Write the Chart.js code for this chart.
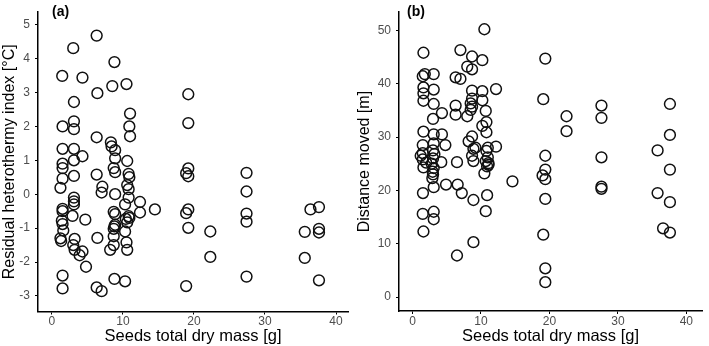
<!DOCTYPE html>
<html>
<head>
<meta charset="utf-8">
<script src="https://cdn.jsdelivr.net/npm/chart.js@4.4.0/dist/chart.umd.min.js"></script>
<style>
body { margin: 0; background: #fff; }
#wrap { position: relative; width: 709px; height: 346px; }
canvas { position: absolute; top: 0; }
</style>
</head>
<body>
<div id="wrap">
  <canvas id="chartA" width="355" height="346" style="left:0"></canvas>
  <canvas id="chartB" width="354" height="346" style="left:355px"></canvas>
</div>
<script>
// Datos
const xTicks = [0, 10, 20, 30, 40];
const aTicks = [-3, -2, -1, 0, 1, 2, 3, 4, 5];
const bTicks = [0, 10, 20, 30, 40, 50];

// Panel (a): masa de semillas vs índice de heterotermia
const aSeedMass = [
  6.3, 3.0, 8.8, 1.45, 4.3, 6.4, 8.5, 10.5, 3.1, 11.0, 10.9, 11.0, 1.5, 3.1, 3.1, 6.3,
  8.3, 8.4, 8.9, 1.5, 3.1, 4.3, 3.1, 1.5, 1.5, 8.9, 10.6, 8.7, 8.9, 10.8, 10.9, 3.1,
  6.3, 1.5, 1.2, 7.1, 7.0, 8.9, 10.6, 10.8, 3.1, 3.1, 3.1, 10.8, 10.3, 12.4, 12.4, 14.5,
  1.5, 1.5, 2.9, 4.7, 1.4, 1.5, 1.6, 1.2, 1.3, 8.7, 8.9, 8.9, 8.7, 8.7, 8.7, 8.2,
  10.4, 10.6, 10.3, 10.5, 10.6, 6.4, 3.2, 3.0, 3.2, 4.3, 3.9, 4.8, 1.5, 1.5, 6.3, 7.0,
  8.8, 10.3, 10.8, 10.9, 8.8,
  19.2, 19.2, 19.2, 18.9, 19.2, 19.2, 18.9, 19.2, 22.3, 22.3, 18.9,
  27.4, 27.4, 27.4, 27.4, 27.4, 36.4, 37.6, 35.6, 37.6, 37.6, 35.6, 37.6
];
const aHeterothermy = [
  4.68, 4.31, 3.9, 3.49, 3.44, 2.98, 3.19, 3.25, 2.72, 2.38, 2.0, 1.71, 2.0, 2.15, 1.92, 1.68,
  1.53, 1.41, 1.30, 1.34, 1.34, 1.12, 1.0, 0.9, 0.77, 1.06, 0.98, 0.77, 0.65, 0.6, 0.5, 0.54,
  0.58, 0.46, 0.19, 0.22, 0.05, 0.0, 0.27, 0.15, -0.1, -0.21, -0.3, -0.1, -0.3, -0.23, -0.54, -0.45,
  -0.43, -0.5, -0.64, -0.75, -0.78, -0.88, -1.07, -1.3, -1.38, -0.52, -0.59, -0.9, -1.02, -1.24, -1.5, -1.64,
  -0.73, -0.83, -1.1, -1.42, -1.64, -1.29, -1.32, -1.5, -1.64, -1.69, -1.8, -2.14, -2.4, -2.78, -2.75, -2.86,
  -2.5, -2.57, -0.65, -0.7, -0.95,
  2.95, 2.1, 0.76, 0.62, 0.53, -0.45, -0.56, -0.99, -1.1, -1.85, -2.71,
  0.63, 0.08, -0.57, -0.81, -2.43, -0.45, -0.38, -1.11, -1.02, -1.13, -1.88, -2.54
];

// Panel (b): masa de semillas vs distancia recorrida
const bSeedMass = [
  10.5, 1.6, 7.0, 8.7, 10.2, 8.0, 8.7, 3.1, 1.5, 1.8, 6.3, 7.0, 1.6, 3.1, 1.6, 8.7,
  10.2, 12.2, 1.6, 3.1, 8.7, 8.5, 8.7, 8.5, 10.2, 6.3, 4.3, 6.3, 8.0, 10.7, 3.0, 10.8,
  10.2, 10.8, 1.6, 3.1, 4.3, 4.8, 8.7, 8.2, 12.2, 1.5, 3.1,
  1.5, 1.2, 1.5, 2.0, 1.6, 3.0, 3.2, 3.0, 2.8, 3.1, 3.0, 4.2, 8.9, 8.7, 8.9, 9.2,
  11.0, 10.8, 11.0, 10.7, 11.1, 10.9, 6.5, 11.1, 10.5, 2.95, 2.9,
  1.53, 3.1, 4.9, 6.6, 7.2, 8.9, 10.9, 10.7, 1.5, 3.1, 3.1, 1.6, 8.9, 6.5, 14.6,
  19.4, 19.1, 22.5, 22.5, 19.4, 19.4, 19.0, 19.4, 19.4, 19.1, 19.4, 19.4,
  27.6, 27.6, 27.6, 27.6, 27.6, 37.6, 37.6, 35.8, 37.6, 35.8, 37.6, 36.6, 37.6
];
const bDistance = [
  50.2, 45.8, 46.3, 45.1, 44.4, 43.2, 42.7, 41.8, 41.4, 41.8, 41.2, 40.9, 39.3, 38.9, 38.2, 38.7,
  38.6, 39.0, 36.8, 36.2, 37.2, 36.3, 35.7, 35.1, 36.9, 35.9, 34.5, 34.2, 33.9, 34.9, 33.4, 32.8,
  32.1, 30.9, 31.0, 30.5, 30.5, 28.5, 30.1, 29.2, 28.2, 28.5, 28.8,
  27.0, 26.5, 25.8, 25.2, 24.3, 27.5, 26.8, 26.0, 25.0, 24.2, 23.0, 25.3, 27.8, 26.5, 25.5, 28.0,
  28.0, 27.4, 26.2, 25.5, 24.8, 24.5, 25.3, 25.1, 23.2, 23.5, 22.3,
  19.5, 20.6, 21.1, 21.1, 19.5, 18.2, 19.1, 16.1, 15.6, 16.0, 14.6, 12.3, 10.3, 7.8, 21.7,
  44.7, 37.1, 33.9, 31.1, 26.5, 23.9, 22.8, 22.1, 18.4, 11.7, 5.4, 2.8,
  35.9, 33.6, 26.2, 20.7, 20.3, 36.2, 30.4, 27.5, 23.9, 19.5, 17.8, 12.9, 12.1
];

const FONT = '"Liberation Sans", Arial, sans-serif';

// Etiqueta del panel: (a), (b)
const panelLabel = {
    id: 'panelLabel',
    afterDraw(chart, args, opts) {
        const c = chart.ctx;
        c.save();
        c.font = 'bold 14px ' + FONT;
        c.fillStyle = '#000';
        c.textBaseline = 'top';
        c.fillText(opts.text, opts.x, 5);
        c.restore();
    }
};

function createPanel(canvasId, xs, ys, cfg) {
    const ctx = document.getElementById(canvasId).getContext('2d');
    const points = xs.map((x, i) => ({ x: x, y: ys[i] }));
    return new Chart(ctx, {
        type: 'scatter',
        data: {
            datasets: [{
                data: points,
                pointRadius: 5.4,
                pointHoverRadius: 5.4,
                borderColor: '#111',
                backgroundColor: 'rgba(0,0,0,0)',
                borderWidth: 1.5
            }]
        },
        options: {
            responsive: false,
            animation: false,
            layout: { padding: { top: 3, right: cfg.padRight, left: 0, bottom: 0 } },
            plugins: {
                legend: { display: false },
                tooltip: { enabled: false },
                panelLabel: { text: cfg.label, x: 52 }
            },
            scales: {
                x: {
                    type: 'linear',
                    min: cfg.xMin,
                    max: cfg.xMax,
                    afterBuildTicks: axis => { axis.ticks = xTicks.map(v => ({ value: v })); },
                    afterFit: axis => { axis.height = cfg.xAxisHeight; },
                    grid: { display: true, drawOnChartArea: false, drawTicks: true, tickLength: 3, color: '#000', lineWidth: 1 },
                    border: { display: true, color: '#000', width: 1.5 },
                    ticks: { color: '#4d4d4d', font: { family: FONT, size: 12 }, padding: 0, maxRotation: 0, autoSkip: false },
                    title: { display: true, text: 'Seeds total dry mass [g]', color: '#000', font: { family: FONT, size: 16.5 }, padding: 0 }
                },
                y: {
                    type: 'linear',
                    min: cfg.yMin,
                    max: cfg.yMax,
                    afterBuildTicks: axis => { axis.ticks = cfg.yTicks.map(v => ({ value: v })); },
                    afterFit: axis => { axis.width = cfg.yAxisWidth; },
                    grid: { display: true, drawOnChartArea: false, drawTicks: true, tickLength: 3, color: '#000', lineWidth: 1 },
                    border: { display: true, color: '#000', width: 1.5 },
                    ticks: { color: '#4d4d4d', font: { family: FONT, size: 12 }, padding: 5, autoSkip: false },
                    title: { display: true, text: cfg.yTitle, color: '#000', font: { family: FONT, size: 16 }, padding: 0 }
                }
            }
        },
        plugins: [panelLabel]
    });
}

createPanel('chartA', aSeedMass, aHeterothermy, {
    label: '(a)', yTitle: 'Residual heterothermy index [°C]', yTicks: aTicks,
    xMin: -1.96, xMax: 41.7, yMin: -3.46, yMax: 5.37,
    yAxisWidth: 38, xAxisHeight: 34.5, padRight: 5
});

createPanel('chartB', bSeedMass, bDistance, {
    label: '(b)', yTitle: 'Distance moved [m]', yTicks: bTicks,
    xMin: -1.97, xMax: 42.3, yMin: -2.6, yMax: 53.4,
    yAxisWidth: 44, xAxisHeight: 35, padRight: 2
});
</script>
</body>
</html>
